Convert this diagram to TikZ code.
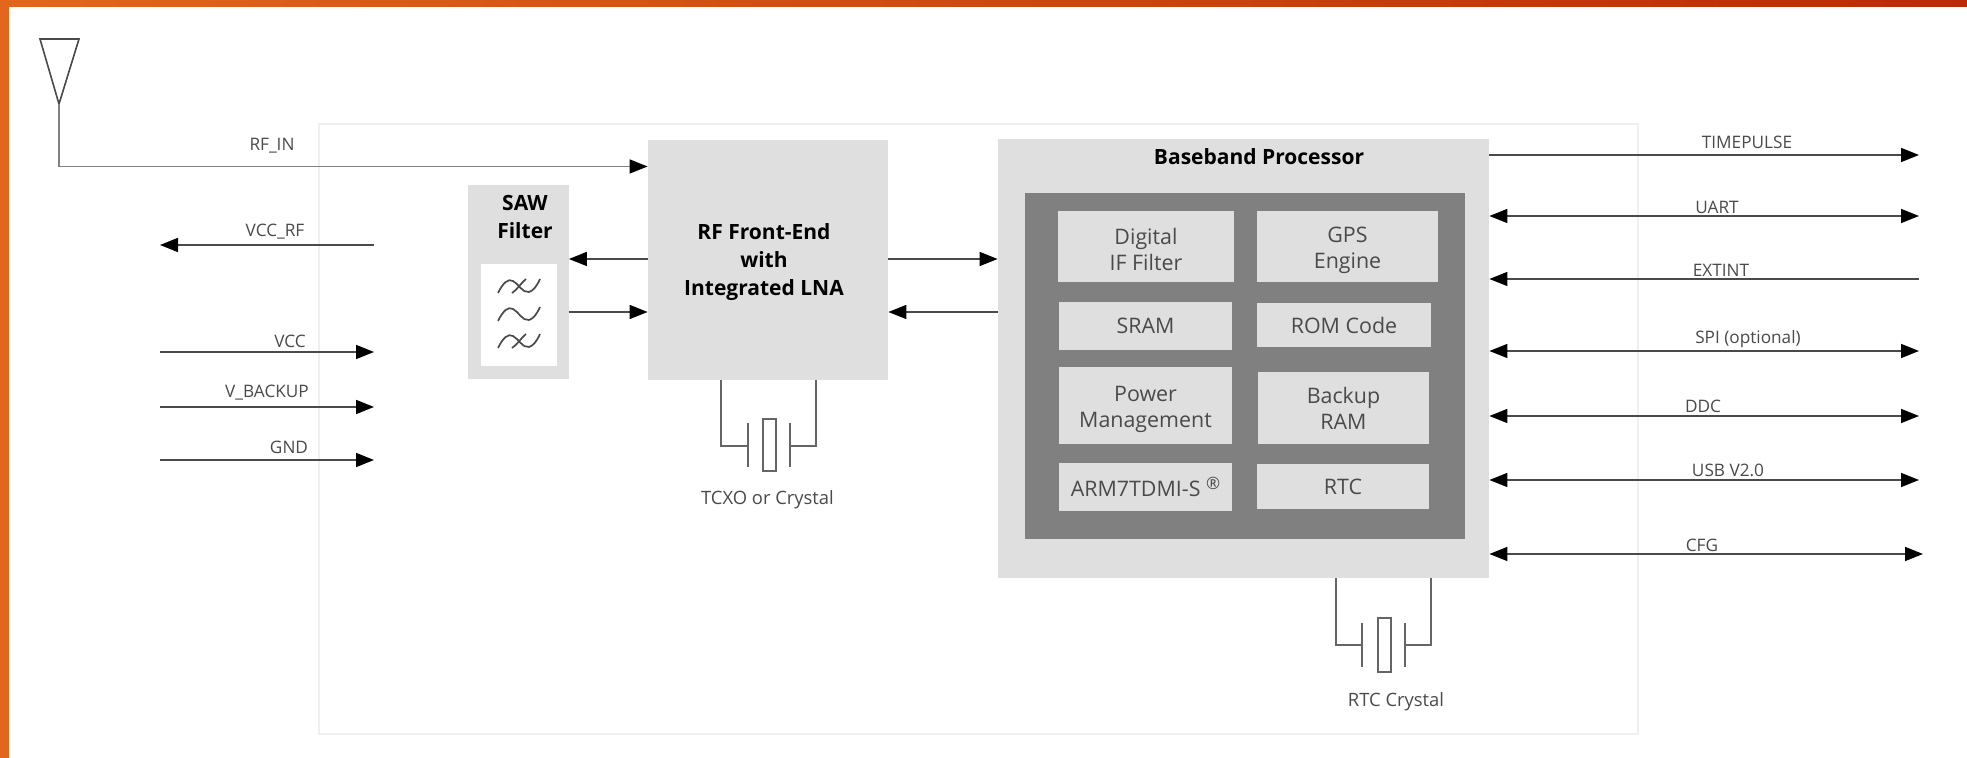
\documentclass[tikz,border=0pt]{standalone}
\usepackage{fontspec}
\setmainfont{Open Sans}
\usetikzlibrary{positioning, arrows.meta}
\definecolor{blockgray}{HTML}{DFDFDF}
\definecolor{darkgray}{HTML}{808080}
\definecolor{framegray}{HTML}{EFEFEF}
\definecolor{textgray}{HTML}{4A4A4A}
\definecolor{barleft}{HTML}{E2661B}
\definecolor{barright}{HTML}{B92B06}
\tikzset{
  wave/.pic={
    \draw[wavestroke] (-21,7) .. controls (-16,-3) and (-11,-8) .. (-6,-5)
      .. controls (0,-2) and (3,7) .. (10,6) .. controls (14,5) and (18,0) .. (21,-7);
  },
  slashwave/.pic={
    \pic {wave};
    \draw[wavestroke] (-7,7) .. controls (-2,4) and (2,-3) .. (7,-7);
  },
  wavestroke/.style={draw=textgray, line width=0.85pt},
}

\begin{document}
\begin{tikzpicture}[x=0.5pt, y=-0.5pt]
	\tikzstyle{ablock}=[fill=blockgray, inner sep=0pt, text=black, font=\fontsize{10.5}{14}\selectfont\bfseries, align=center]
	\tikzstyle{acell}=[fill=blockgray, inner sep=0pt, text=textgray, font=\fontsize{10.7}{13}\selectfont, align=center]
	\tikzstyle{signame}=[inner sep=0pt, text=textgray, font=\fontsize{8.6}{10}\selectfont]
	\tikzstyle{arrowline}=[draw=textgray, line width=0.8pt, {Triangle[length=9pt,width=7pt,black]}-{Triangle[length=9pt,width=7pt,black]}]
	\tikzstyle{inline}=[draw=textgray, line width=0.8pt, -{Triangle[length=9pt,width=7pt,black]}]
	\tikzstyle{wireline}=[draw=textgray!85, line width=0.7pt]

	\useasboundingbox (0,0) rectangle (1967,758);
	\fill[white] (0,0) rectangle (1967,758);
	\fill[barleft] (0,0) rectangle (9,758);
	\shade[left color=barleft, right color=barright] (0,0) rectangle (1967,7);

	\node[draw=framegray, line width=1pt, minimum width=659.5pt, minimum height=305pt, inner sep=0pt] (module) at (978,429) {};

	% blocks
	\node[ablock, minimum width=120pt, minimum height=120pt] (rffe) at (768,260) {};
	\node[ablock, fill=none] (rffename) at (764,262) {RF Front-End\\with\\Integrated LNA};
	\node[ablock, minimum width=50.5pt, minimum height=97pt] (saw) at (518,282) {};
	\node[ablock, fill=none] (sawname) at (525,217) {SAW\\Filter};
	\node[fill=white, minimum width=38pt, minimum height=51pt, inner sep=0pt] (sawcore) at (519,315) {};
	\pic at (519,286) {slashwave};
	\pic at (519,314) {wave};
	\pic at (519,341) {slashwave};

	\node[ablock, minimum width=245.5pt, minimum height=219.5pt] (bb) at (1243.5,358.5) {};
	\node[ablock, fill=none] (bbname) at (1259,157) {Baseband Processor};
	\node[fill=darkgray, minimum width=220pt, minimum height=173pt, inner sep=0pt] (core) at (1245,366) {};

	\node[acell, minimum width=88pt, minimum height=35.5pt] (digital) at (1146,246.5) {\rule{0pt}{11pt}Digital\\IF Filter};
	\node[acell, minimum width=90.5pt, minimum height=35.5pt] (gps) at (1347.5,246.5) {\rule{0pt}{12pt}GPS\\Engine};
	\node[acell, minimum width=86.5pt, minimum height=24pt] (sram) at (1145.5,326) {SRAM};
	\node[acell, minimum width=87pt, minimum height=22pt] (rom) at (1344,325) {ROM Code};
	\node[acell, minimum width=86.5pt, minimum height=38.5pt] (power) at (1145.5,405.5) {\rule{0pt}{12pt}Power\\Management};
	\node[acell, minimum width=85.5pt, minimum height=36pt] (backup) at (1343.5,408) {Backup\\RAM};
	\node[acell, minimum width=86.5pt, minimum height=24pt] (arm) at (1145.5,487) {\raisebox{-1.5pt}{ARM7TDMI-S \raisebox{0.6ex}{\fontsize{8.5}{8.5}\selectfont ®}}};
	\node[acell, minimum width=86pt, minimum height=22.5pt] (rtc) at (1343,486.5) {RTC};

	% antenna
	\node[inner sep=0pt] (ant) at (59,104) {};
	\coordinate (antL) at (40,39);
	\coordinate (antR) at (79,39);
	\coordinate (rfcorner) at (59,166.5);
	\draw[draw=textgray, line width=0.8pt, line join=miter] (ant.center) -- (antL) -- (antR) -- cycle;
	\draw[inline, draw=textgray!70] (ant.center) -- (rfcorner) -- (rfcorner -| rffe.west);
	\node[signame] (rfin) at (272,146) {RF\_IN};

	% power pins
	\coordinate (pinL) at (160,0);
	\coordinate (pinR) at (374,0);
	\coordinate (vccrf) at (0,245);
	\coordinate (vcc) at (0,352);
	\coordinate (vbak) at (0,407);
	\coordinate (gnd) at (0,460);
	\draw[inline] (vccrf -| pinR) -- (vccrf -| pinL);
	\draw[inline] (vcc -| pinL) -- (vcc -| pinR);
	\draw[inline] (vbak -| pinL) -- (vbak -| pinR);
	\draw[inline] (gnd -| pinL) -- (gnd -| pinR);
	\node[signame] (lvccrf) at (275,232) {VCC\_RF};
	\node[signame] (lvcc) at (290,341) {VCC};
	\node[signame] (lvbak) at (267,393) {V\_BACKUP};
	\node[signame] (lgnd) at (289,447) {GND};

	% between blocks
	\coordinate (upper) at (0,259);
	\coordinate (lower) at (0,312);
	\draw[inline] (rffe.west |- upper) -- (saw.east |- upper);
	\draw[inline] (saw.east |- lower) -- (rffe.west |- lower);
	\draw[inline] (rffe.east |- upper) -- (bb.west |- upper);
	\draw[inline] (bb.west |- lower) -- (rffe.east |- lower);

	% right side pins
	\coordinate (outR) at (1919,0);
	\coordinate (outRR) at (1923,0);
	\coordinate (tp) at (0,155);
	\coordinate (uart) at (0,216);
	\coordinate (extint) at (0,279);
	\coordinate (spi) at (0,351);
	\coordinate (ddc) at (0,416);
	\coordinate (usb) at (0,480);
	\coordinate (cfg) at (0,554);
	\draw[inline] (bb.east |- tp) -- (tp -| outR);
	\draw[arrowline] (bb.east |- uart) -- (uart -| outR);
	\draw[inline] (extint -| outR) -- (bb.east |- extint);
	\draw[arrowline] (bb.east |- spi) -- (spi -| outR);
	\draw[arrowline] (bb.east |- ddc) -- (ddc -| outR);
	\draw[arrowline] (bb.east |- usb) -- (usb -| outR);
	\draw[arrowline] (bb.east |- cfg) -- (cfg -| outRR);
	\node[signame] (ltp) at (1747,142) {TIMEPULSE};
	\node[signame] (luart) at (1717,207) {UART};
	\node[signame] (lext) at (1721,270) {EXTINT};
	\node[signame] (lspi) at (1748,339) {SPI (optional)};
	\node[signame] (lddc) at (1703,406) {DDC};
	\node[signame] (lusb) at (1728,470) {USB V2.0};
	\node[signame] (lcfg) at (1702,545) {CFG};

	% crystals
	\node[draw=textgray!85, line width=0.7pt, minimum width=6.5pt, minimum height=26pt, inner sep=0pt] (xtal) at (769.5,445) {};
	\coordinate (xtalL) at (748,446);
	\coordinate (xtalR) at (790,446);
	\draw[wireline] (748,423) -- (748,467);
	\draw[wireline] (790,423) -- (790,467);
	\draw[wireline] (721,380) -- (721,446) -- (xtalL);
	\draw[wireline] (816,380) -- (816,446) -- (xtalR);
	\node[signame, font=\fontsize{9.2}{10}\selectfont] (lxtal) at (767.5,500) {TCXO or Crystal};

	\node[draw=textgray!85, line width=0.7pt, minimum width=6.5pt, minimum height=27pt, inner sep=0pt] (rtcx) at (1384.5,645) {};
	\coordinate (rtcxL) at (1362,645);
	\coordinate (rtcxR) at (1405,645);
	\draw[wireline] (1362,623) -- (1362,667);
	\draw[wireline] (1405,623) -- (1405,667);
	\draw[wireline] (1336,578) -- (1336,645) -- (rtcxL);
	\draw[wireline] (1431,578) -- (1431,645) -- (rtcxR);
	\node[signame, font=\fontsize{9.2}{10}\selectfont] (lrtcx) at (1396,702) {RTC Crystal};
\end{tikzpicture}
\end{document}
